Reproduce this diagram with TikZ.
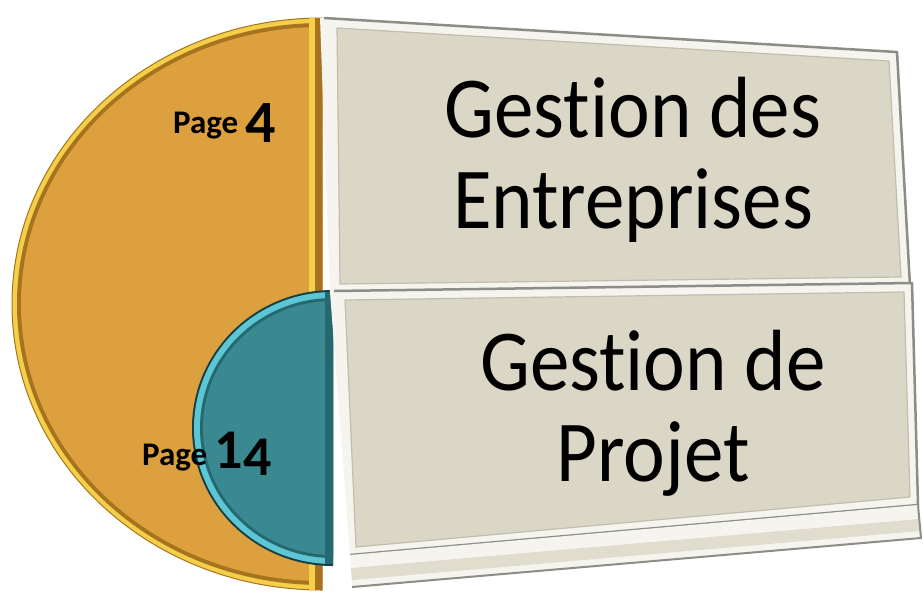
\documentclass[tikz,border=0pt]{standalone}
\usepackage{fontspec}
\setmainfont[Ligatures={NoCommon,NoContextual}]{Carlito}
\usepackage{graphicx}

\definecolor{orfill}{HTML}{DCA03E}
\definecolor{orrim}{HTML}{F3CF4A}
\definecolor{ordark}{HTML}{A8731F}
\definecolor{tlfill}{HTML}{3A8990}
\definecolor{tlrim}{HTML}{5CC6D4}
\definecolor{tldark}{HTML}{266870}
\definecolor{boxface}{HTML}{DBD7C7}
\definecolor{faceline}{HTML}{C2BEAE}
\definecolor{bevel}{HTML}{F5F4EF}
\definecolor{edgegray}{HTML}{8C8E86}

\tikzset{
  halfdisc/.style n args={4}{insert path={(#1,#2-#4) arc[start angle=90,end angle=270,x radius=#3pt,y radius=#4pt] -- cycle}},
  boxtext/.style={inner sep=0pt, text=black, font=\fontsize{79}{83}\selectfont},
  pagetext/.style={inner sep=0pt, text=black, font=\bfseries\fontsize{33}{36}\selectfont},
  plank/.style={fill=bevel},
  plankface/.style={fill=boxface, draw=faceline, line width=1.2pt, line join=round},
  plankedge/.style={draw=edgegray, line width=2.5pt, line join=round},
}
% large page digits, the 4 hanging below the baseline
\newcommand\bignum[1]{{\fontsize{60}{62}\selectfont #1}}
\newcommand\hangfour{\raisebox{-9pt}{\bignum{4}}}

\begin{document}
\begin{tikzpicture}[x=1pt, y=-1pt]
\useasboundingbox (0,0) rectangle (923,595);

% large orange half disc with bevelled rim
\fill[orrim, draw=ordark, line width=1pt, halfdisc={322}{304}{310}{286}];
\fill[ordark, halfdisc={322}{304}{305}{281}];
\fill[orfill, halfdisc={322}{304}{301}{277}];
\begin{scope}
  \clip[halfdisc={322}{304}{310}{286}];
  \fill[orrim] (309,0) rectangle (315,600);
  \fill[ordark] (315,0) rectangle (324,600);
\end{scope}

% small teal half disc
\fill[tldark!60!black, halfdisc={333}{428}{141}{138}];
\fill[tlrim, halfdisc={333}{428}{139}{136}];
\fill[tldark, halfdisc={333}{428}{133}{130}];
\fill[tlfill, halfdisc={333}{428}{130}{127}];
\begin{scope}
  \clip[halfdisc={333}{428}{139}{136}];
  \fill[tldark] (325,280) rectangle (334,580);
\end{scope}

% upper plank
\fill[plank] (320,18) -- (897,52) -- (910,286) -- (330,292) -- cycle;
\draw[plankedge] (324,18) -- (897,52) -- (910,286);
\filldraw[plankface] (337,28) -- (889,61) -- (901,277) -- (340,284) -- cycle;

% lower plank
\fill[plank] (330,292) -- (912,283) -- (918,505) -- (350,555) -- cycle;
\draw[plankedge] (334,291) -- (912,283) -- (918,505) -- (350,555);
\filldraw[plankface] (345,300) -- (904,292) -- (910,497) -- (356,547) -- cycle;

% base strip under the lower plank
\fill[plank] (350,555) -- (918,505) -- (921,538) -- (352,587) -- cycle;
\fill[boxface!85!white] (351,568) -- (919,519) -- (920,531) -- (352,580) -- cycle;
\draw[plankedge, line width=2pt] (918,505) -- (921,538) -- (352,587);

% plank titles
\node[boxtext, anchor=base] (entreprises) at (633,137)
  {\scalebox{1}[1.1]{\begin{tabular}[t]{@{}c@{}}Gestion des\\Entreprises\end{tabular}}};
\node[boxtext, anchor=base] (projet) at (653,390)
  {\scalebox{1}[1.1]{\begin{tabular}[t]{@{}c@{}}Gestion de\\Projet\end{tabular}}};

% page references
\node[pagetext, anchor=base west] (page4) at (173,133)
  {Page \hangfour};
\node[pagetext, anchor=base west] (page14) at (142,465)
  {Page \raisebox{-3pt}{\fontsize{56}{58}\selectfont 1}\raisebox{-10pt}{\fontsize{56}{58}\selectfont 4}};
\end{tikzpicture}
\end{document}
